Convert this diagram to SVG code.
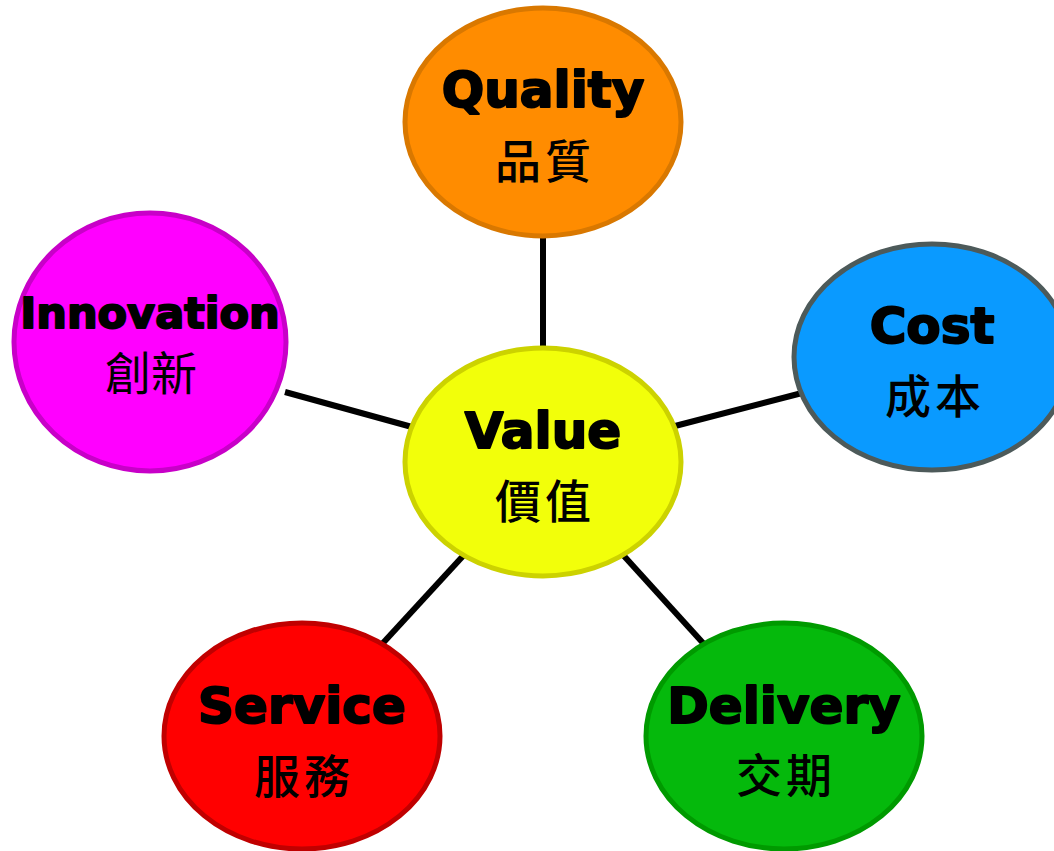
<svg xmlns="http://www.w3.org/2000/svg" width="1054" height="851" viewBox="0 0 1054 851">
<style>
.node ellipse{stroke-width:5}
.en{font-family:"DejaVu Sans","Liberation Sans",sans-serif;font-weight:bold;font-size:50px;fill:#000;stroke:#000;stroke-width:2;stroke-linejoin:round;text-anchor:middle}
.zh{font-family:"Noto Sans CJK TC","Noto Sans CJK SC",sans-serif;font-weight:500;font-size:46px;fill:#000;text-anchor:middle;letter-spacing:4px}
.conn line{stroke:#000;stroke-width:6}
</style>
<rect width="1054" height="851" fill="#fff"/>
<g id="connectors" class="conn">
<line x1="543" y1="236" x2="543" y2="349"/>
<line x1="285" y1="392" x2="412" y2="427"/>
<line x1="675" y1="426" x2="802" y2="393"/>
<line x1="383" y1="643" x2="463" y2="556"/>
<line x1="703" y1="643" x2="624" y2="556"/>
</g>
<g id="quality" class="node">
<ellipse cx="543" cy="122" rx="138" ry="114" fill="#FF8C00" stroke="#D97800"/>
<text class="en" x="543" y="107">Quality</text>
<text class="zh" x="545" y="178">品質</text>
</g>
<g id="innovation" class="node">
<ellipse cx="150" cy="342" rx="136" ry="129" fill="#FF00FF" stroke="#C800C8"/>
<text class="en" x="150" y="328" style="font-size:43px">Innovation</text>
<text class="zh" x="151" y="390" style="font-weight:400;letter-spacing:0">創新</text>
</g>
<g id="value" class="node">
<ellipse cx="543" cy="462" rx="138" ry="114" fill="#F2FF0A" stroke="#CCD200"/>
<text class="en" x="543" y="448">Value</text>
<text class="zh" x="545" y="518">價值</text>
</g>
<g id="cost" class="node">
<ellipse cx="932" cy="357" rx="138" ry="113" fill="#0A9AFF" stroke="#4D5A5A"/>
<text class="en" x="932" y="343">Cost</text>
<text class="zh" x="935" y="413">成本</text>
</g>
<g id="service" class="node">
<ellipse cx="302" cy="736" rx="138" ry="113" fill="#FF0000" stroke="#C00000"/>
<text class="en" x="302" y="723">Service</text>
<text class="zh" x="304" y="793">服務</text>
</g>
<g id="delivery" class="node">
<ellipse cx="784" cy="736" rx="138" ry="113" fill="#05B90C" stroke="#009A00"/>
<text class="en" x="784" y="723">Delivery</text>
<text class="zh" x="786" y="792">交期</text>
</g>
</svg>
